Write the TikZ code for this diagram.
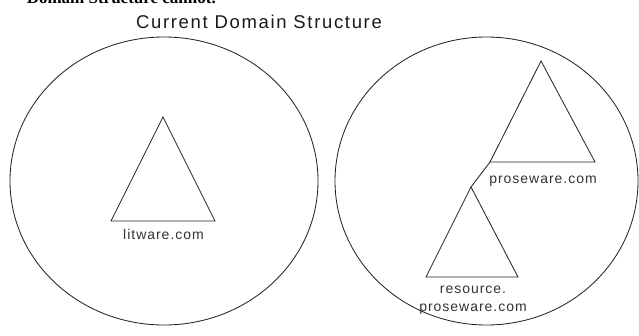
\documentclass[tikz,border=0pt]{standalone}
\usepackage{fontspec}
\setmainfont{Liberation Sans}
\newfontfamily\serifbold{Liberation Serif}
\begin{document}
\begin{tikzpicture}[x=1pt,y=-1pt,
  outline/.style={draw=black!85,line width=0.85pt},
  lbl/.style={font=\fontsize{14}{16}\selectfont\addfontfeature{LetterSpace=7},text=black!80,inner sep=0pt,anchor=base},
  titlestyle/.style={font=\fontsize{18.5}{20}\selectfont\addfontfeature{LetterSpace=9},text=black!90,inner sep=0pt,anchor=base}
]
\useasboundingbox (0,0) rectangle (639,335);
\begin{scope}
  \clip (0,0) rectangle (639,335);
  \node[anchor=base east,inner sep=0pt,font=\serifbold\bfseries\fontsize{17}{18}\selectfont] (cut) at (216,3) {Domain Structure cannot.};
\end{scope}
\node[titlestyle] (title) at (259,28) {Current Domain Structure};
% forests
\draw[outline] (164,181) ellipse [x radius=154,y radius=144];
\draw[outline] (486.5,181) ellipse [x radius=151.5,y radius=144];
% left tree
\coordinate (la) at (163,117);
\coordinate (ll) at (111,221);
\coordinate (lr) at (215,221);
\draw[outline] (la) -- (ll) -- (lr) -- cycle;
\node[lbl] (lit) at (163.5,239) {litware.com};
% right top tree
\coordinate (pa) at (541,61);
\coordinate (pl) at (490,162);
\coordinate (pr) at (595,162);
\draw[outline] (pa) -- (pl) -- (pr) -- cycle;
\node[lbl] (pro) at (543,183) {proseware.com};
% right bottom tree
\coordinate (ra) at (471,187);
\coordinate (rl) at (426,277);
\coordinate (rr) at (518,277);
\draw[outline] (ra) -- (rl) -- (rr) -- cycle;
\node[lbl] (res1) at (473,293) {resource.};
\node[lbl] (res2) at (473,311) {proseware.com};
% trust link
\draw[outline] (pl) -- (ra);
\end{tikzpicture}
\end{document}
